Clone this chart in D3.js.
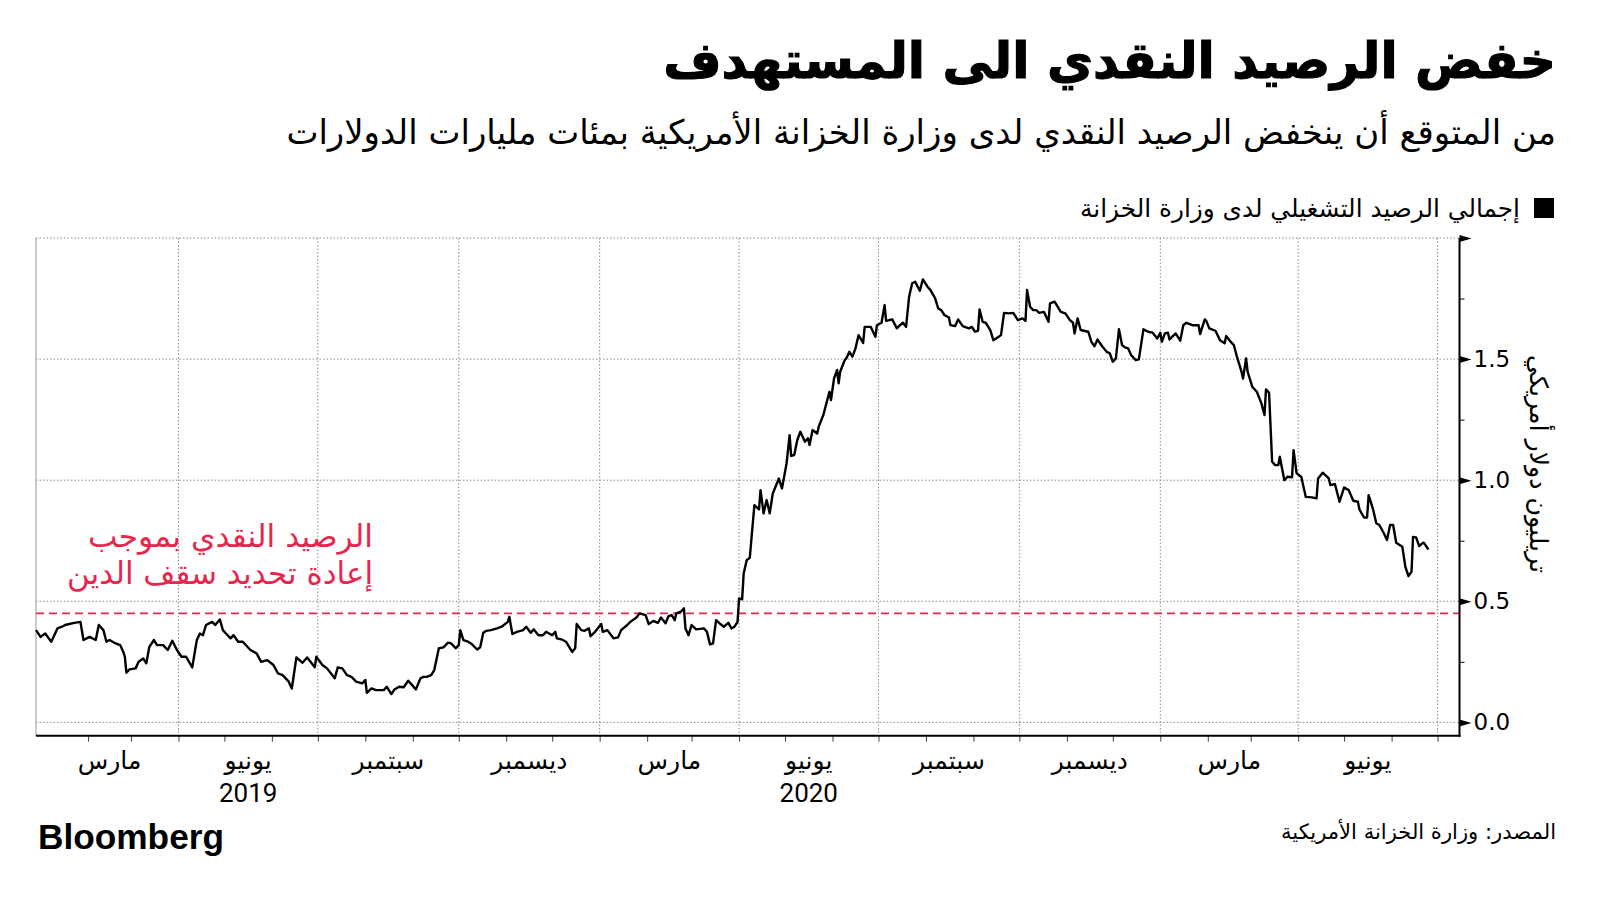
<!DOCTYPE html>
<html><head><meta charset="utf-8">
<script src="https://cdn.jsdelivr.net/npm/d3@7"></script>
<style>
body{margin:0;background:#fff;}
svg{display:block;}
</style></head><body>
<svg id="chart" width="1600" height="900"></svg>
<script>
// ---------------- DATA ----------------
const dates = [
"2018-12-29","2019-01-01","2019-01-04","2019-01-08","2019-01-12","2019-01-15","2019-01-17","2019-01-23","2019-01-27","2019-01-29",
"2019-02-02","2019-02-06","2019-02-08","2019-02-11","2019-02-13","2019-02-15","2019-02-19","2019-02-22","2019-02-24","2019-02-25",
"2019-02-26","2019-02-28","2019-03-04","2019-03-06","2019-03-09","2019-03-11","2019-03-13","2019-03-16","2019-03-18","2019-03-22",
"2019-03-25","2019-03-28","2019-03-31","2019-04-03","2019-04-06","2019-04-10","2019-04-13","2019-04-15","2019-04-17","2019-04-19",
"2019-04-23","2019-04-25","2019-04-28","2019-04-30","2019-05-02","2019-05-05","2019-05-07","2019-05-10","2019-05-13","2019-05-18",
"2019-05-22","2019-05-25","2019-05-29","2019-06-02","2019-06-05","2019-06-08","2019-06-12","2019-06-14","2019-06-17","2019-06-19",
"2019-06-21","2019-06-24","2019-06-27","2019-06-29","2019-06-30","2019-07-04","2019-07-07","2019-07-12","2019-07-14","2019-07-17",
"2019-07-20","2019-07-23","2019-07-26","2019-07-30","2019-08-01","2019-08-02","2019-08-05","2019-08-08","2019-08-13","2019-08-15",
"2019-08-18","2019-08-20","2019-08-23","2019-08-26","2019-08-29","2019-08-31","2019-09-03","2019-09-06","2019-09-08","2019-09-10",
"2019-09-13","2019-09-15","2019-09-18","2019-09-21","2019-09-24","2019-09-26","2019-09-29","2019-10-01","2019-10-02","2019-10-04",
"2019-10-07","2019-10-09","2019-10-13","2019-10-15","2019-10-17","2019-10-19","2019-10-22","2019-10-26","2019-10-29","2019-11-02",
"2019-11-03","2019-11-05","2019-11-08","2019-11-12","2019-11-14","2019-11-17","2019-11-19","2019-11-22","2019-11-25","2019-11-27",
"2019-12-01","2019-12-03","2019-12-04","2019-12-07","2019-12-10","2019-12-14","2019-12-16","2019-12-17","2019-12-20","2019-12-22",
"2019-12-25","2019-12-26","2019-12-29","2020-01-02","2020-01-03","2020-01-06","2020-01-10","2020-01-13","2020-01-15","2020-01-19",
"2020-01-21","2020-01-25","2020-01-27","2020-01-31","2020-02-02","2020-02-05","2020-02-08","2020-02-10","2020-02-13","2020-02-15",
"2020-02-17","2020-02-19","2020-02-20","2020-02-23","2020-02-25","2020-02-26","2020-02-28","2020-03-01","2020-03-04","2020-03-09",
"2020-03-11","2020-03-13","2020-03-15","2020-03-17","2020-03-20","2020-03-22","2020-03-25","2020-03-27","2020-03-29","2020-03-31",
"2020-04-01","2020-04-03","2020-04-04","2020-04-06","2020-04-08","2020-04-09","2020-04-11","2020-04-14","2020-04-15","2020-04-17",
"2020-04-19","2020-04-21","2020-04-23","2020-04-27","2020-04-29","2020-05-02","2020-05-04","2020-05-05","2020-05-07","2020-05-09",
"2020-05-11","2020-05-14","2020-05-16","2020-05-17","2020-05-19","2020-05-22","2020-05-23","2020-05-26","2020-05-28","2020-05-30",
"2020-05-31","2020-06-02","2020-06-04","2020-06-05","2020-06-06","2020-06-09","2020-06-10","2020-06-12","2020-06-14","2020-06-16",
"2020-06-18","2020-06-21","2020-06-22","2020-06-26","2020-06-29","2020-06-30","2020-07-03","2020-07-05","2020-07-06","2020-07-10",
"2020-07-13","2020-07-15","2020-07-17","2020-07-19","2020-07-21","2020-07-23","2020-07-25","2020-07-28","2020-07-30","2020-08-02",
"2020-08-04","2020-08-07","2020-08-09","2020-08-11","2020-08-13","2020-08-16","2020-08-17","2020-08-20","2020-08-22","2020-08-25",
"2020-08-29","2020-08-31","2020-09-02","2020-09-04","2020-09-05","2020-09-07","2020-09-09","2020-09-12","2020-09-14","2020-09-17",
"2020-09-19","2020-09-21","2020-09-24","2020-09-27","2020-09-30","2020-10-03","2020-10-05","2020-10-06","2020-10-08","2020-10-10",
"2020-10-12","2020-10-14","2020-10-17","2020-10-20","2020-10-21","2020-10-24","2020-10-28","2020-10-31","2020-11-03","2020-11-05",
"2020-11-06","2020-11-08","2020-11-10","2020-11-15","2020-11-17","2020-11-19","2020-11-21","2020-11-24","2020-11-27","2020-11-29",
"2020-12-01","2020-12-03","2020-12-05","2020-12-07","2020-12-09","2020-12-11","2020-12-13","2020-12-16","2020-12-18","2020-12-21",
"2020-12-24","2020-12-27","2020-12-30","2021-01-01","2021-01-02","2021-01-04","2021-01-06","2021-01-07","2021-01-11","2021-01-14",
"2021-01-16","2021-01-18","2021-01-22","2021-01-26","2021-01-27","2021-01-30","2021-01-31","2021-02-02","2021-02-06","2021-02-09",
"2021-02-12","2021-02-13","2021-02-16","2021-02-18","2021-02-20","2021-02-23","2021-02-24","2021-02-26","2021-02-27","2021-03-02",
"2021-03-05","2021-03-08","2021-03-10","2021-03-11","2021-03-13","2021-03-15","2021-03-17","2021-03-19","2021-03-20","2021-03-23",
"2021-03-25","2021-03-28","2021-03-29","2021-03-31","2021-04-03","2021-04-06","2021-04-10","2021-04-13","2021-04-14","2021-04-17",
"2021-04-21","2021-04-22","2021-04-25","2021-04-28","2021-05-01","2021-05-04","2021-05-07","2021-05-10","2021-05-11","2021-05-14",
"2021-05-16","2021-05-17","2021-05-20","2021-05-22","2021-05-24","2021-05-27","2021-05-29","2021-05-31","2021-06-02","2021-06-04",
"2021-06-08","2021-06-10","2021-06-12","2021-06-14","2021-06-15","2021-06-17","2021-06-19","2021-06-21","2021-06-22","2021-06-25"
];
// Total Treasury operating cash balance, trillions of US dollars
const balance = [
0.381,0.353,0.367,0.333,0.388,0.395,0.402,0.411,0.415,0.340,
0.353,0.340,0.402,0.381,0.333,0.340,0.326,0.319,0.291,0.271,
0.205,0.219,0.223,0.250,0.264,0.244,0.312,0.340,0.319,0.319,
0.299,0.337,0.299,0.271,0.271,0.227,0.340,0.367,0.360,0.402,
0.415,0.402,0.425,0.381,0.367,0.347,0.360,0.333,0.333,0.299,
0.285,0.250,0.257,0.237,0.202,0.195,0.168,0.140,0.268,0.257,
0.246,0.268,0.244,0.227,0.271,0.237,0.223,0.182,0.227,0.223,
0.195,0.188,0.168,0.161,0.175,0.122,0.140,0.133,0.133,0.147,
0.117,0.136,0.147,0.145,0.172,0.158,0.136,0.182,0.188,0.188,
0.195,0.216,0.306,0.310,0.329,0.326,0.306,0.319,0.381,0.340,
0.333,0.326,0.301,0.310,0.370,0.378,0.381,0.388,0.395,0.415,
0.436,0.365,0.374,0.381,0.395,0.370,0.384,0.360,0.360,0.374,
0.360,0.374,0.347,0.343,0.333,0.291,0.306,0.406,0.381,0.378,
0.388,0.356,0.374,0.406,0.374,0.381,0.347,0.351,0.381,0.402,
0.415,0.433,0.450,0.443,0.406,0.419,0.411,0.433,0.409,0.439,
0.443,0.422,0.450,0.457,0.471,0.388,0.360,0.402,0.384,0.388,
0.374,0.322,0.326,0.422,0.405,0.395,0.411,0.388,0.395,0.415,
0.512,0.508,0.615,0.670,0.680,0.753,0.897,0.879,0.959,0.863,
0.918,0.863,0.945,1.007,0.966,1.069,1.186,1.100,1.104,1.166,
1.200,1.159,1.173,1.145,1.207,1.193,1.221,1.269,1.317,1.365,
1.331,1.420,1.455,1.400,1.448,1.496,1.503,1.530,1.510,1.544,
1.599,1.567,1.633,1.633,1.592,1.640,1.650,1.723,1.658,1.664,
1.627,1.640,1.650,1.633,1.757,1.813,1.819,1.782,1.829,1.799,
1.785,1.751,1.709,1.702,1.682,1.672,1.640,1.636,1.664,1.636,
1.627,1.633,1.613,1.617,1.705,1.654,1.650,1.620,1.578,1.590,
1.599,1.691,1.689,1.691,1.661,1.668,1.658,1.785,1.716,1.702,
1.702,1.691,1.695,1.654,1.730,1.737,1.695,1.689,1.661,1.650,
1.606,1.668,1.620,1.613,1.571,1.553,1.581,1.553,1.530,1.524,
1.489,1.503,1.623,1.558,1.548,1.544,1.516,1.496,1.499,1.623,
1.613,1.609,1.585,1.609,1.571,1.606,1.609,1.581,1.606,1.576,
1.640,1.650,1.640,1.640,1.603,1.664,1.658,1.627,1.617,1.578,
1.565,1.595,1.571,1.558,1.510,1.448,1.420,1.503,1.448,1.386,
1.365,1.317,1.269,1.375,1.361,1.076,1.062,1.062,1.097,1.000,
1.014,1.012,1.124,1.028,1.014,0.931,0.929,0.925,1.007,1.031,
1.007,0.980,0.984,0.911,0.970,0.959,0.915,0.911,0.879,0.846,
0.846,0.938,0.877,0.822,0.815,0.780,0.753,0.815,0.815,0.742,
0.725,0.642,0.604,0.622,0.766,0.764,0.728,0.739,0.742,0.714
];
const debtCeilingCash = 0.45;
const yTicks = [0, 0.5, 1.0, 1.5, 2.0];
const yTickLabels = ["0.0", "0.5", "1.0", "1.5", ""];
const yMinorTicks = [0.25, 0.75, 1.25, 1.75];
const quarterStarts = ["2019-01-01","2019-04-01","2019-07-01","2019-10-01","2020-01-01","2020-04-01","2020-07-01","2020-10-01","2021-01-01","2021-04-01","2021-07-01"];
const quarterLabels = ["مارس","يونيو","سبتمبر","ديسمبر","مارس","يونيو","سبتمبر","ديسمبر","مارس","يونيو"];
const yearLabels = ["","2019","","","","2020","","","",""];
const xDomain = ["2018-12-29","2021-07-15"];
const yDomain = [-0.055, 2.0];

const titleText = "خفض الرصيد النقدي الى المستهدف";
const subtitleText = "من المتوقع أن ينخفض الرصيد النقدي لدى وزارة الخزانة الأمريكية بمئات مليارات الدولارات";
const legendText = "إجمالي الرصيد التشغيلي لدى وزارة الخزانة";
const yAxisTitle = "تريليون دولار أمريكي";
const annotationLines = ["الرصيد النقدي بموجب", "إعادة تحديد سقف الدين"];
const annotationDate = "2019-08-06";
const sourceText = "المصدر: وزارة الخزانة الأمريكية";
const brandText = "Bloomberg";

// ---------------- CHART ----------------
const parse = d3.utcParse("%Y-%m-%d");
const series = dates.map((d, i) => ({date: parse(d), v: balance[i]}));
const svg = d3.select("#chart");
const AR = "'DejaVu Sans', sans-serif";
const RED = "#e8254c";
const GRID = "#8a8a8a";
const plot = {left: 36, right: 1459.5, top: 238, bottom: 735.7};

const x = d3.scaleUtc().domain(xDomain.map(parse)).range([plot.left, 1459]);
const y = d3.scaleLinear().domain(yDomain).range([plot.bottom, plot.top]);

function fitText(sel, target) {
  const w = sel.node().getComputedTextLength();
  const fs = parseFloat(sel.attr("font-size"));
  if (w > 0) sel.attr("font-size", (fs * target / w).toFixed(2));
  return sel;
}

// title / subtitle
fitText(svg.append("text").attr("x", 1556).attr("y", 60).attr("text-anchor", "end")
  .attr("dominant-baseline", "central").attr("font-family", AR).attr("font-weight", "bold")
  .attr("font-size", 50).attr("fill", "#000").attr("stroke", "#000").attr("stroke-width", 1.2)
  .text(titleText), 893);
fitText(svg.append("text").attr("x", 1556).attr("y", 132).attr("text-anchor", "end")
  .attr("dominant-baseline", "central").attr("font-family", AR)
  .attr("font-size", 30).attr("fill", "#000").text(subtitleText), 1270);

// legend
svg.append("rect").attr("x", 1534).attr("y", 198).attr("width", 20).attr("height", 20).attr("fill", "#000");
fitText(svg.append("text").attr("x", 1520).attr("y", 208).attr("text-anchor", "end")
  .attr("dominant-baseline", "central").attr("font-family", AR)
  .attr("font-size", 22).attr("fill", "#000").text(legendText), 440);

// grid
const grid = svg.append("g");
grid.selectAll("line.h").data(yTicks).join("line")
  .attr("x1", plot.left).attr("x2", plot.right)
  .attr("y1", d => y(d)).attr("y2", d => y(d))
  .attr("stroke", GRID).attr("stroke-width", 1).attr("stroke-dasharray", "1.5,2");
const qDates = quarterStarts.map(parse);
grid.selectAll("line.v").data(qDates.filter(d => x(d) > plot.left + 10 && x(d) < plot.right - 5)).join("line")
  .attr("x1", d => x(d)).attr("x2", d => x(d))
  .attr("y1", plot.top).attr("y2", plot.bottom)
  .attr("stroke", GRID).attr("stroke-width", 1).attr("stroke-dasharray", "1.5,2");
grid.append("line").attr("x1", plot.left).attr("x2", plot.left).attr("y1", plot.top).attr("y2", plot.bottom)
  .attr("stroke", "#a8a8a8").attr("stroke-width", 1.2);

// debt ceiling reference
svg.append("line").attr("x1", plot.left).attr("x2", plot.right)
  .attr("y1", y(debtCeilingCash)).attr("y2", y(debtCeilingCash))
  .attr("stroke", RED).attr("stroke-width", 1.6).attr("stroke-dasharray", "8,5");
const ax = x(parse(annotationDate));
const annotWidths = [285, 306];
annotationLines.forEach((t, i) => {
  fitText(svg.append("text").attr("x", ax).attr("y", y(debtCeilingCash) - 77 + i * 37)
    .attr("text-anchor", "end").attr("dominant-baseline", "central")
    .attr("font-family", AR).attr("font-size", 27).attr("fill", RED).text(t), annotWidths[i]);
});

// series line
svg.append("path").datum(series)
  .attr("fill", "none").attr("stroke", "#000").attr("stroke-width", 2.4)
  .attr("stroke-linejoin", "round")
  .attr("d", d3.line().x(d => x(d.date)).y(d => y(d.v)));

// x axis (month ticks)
const xAxis = svg.append("g").attr("transform", `translate(0,${plot.bottom})`)
  .call(d3.axisBottom(x).tickValues(d3.utcMonth.range(parse("2019-02-01"), parse("2021-07-02")))
    .tickFormat("").tickSizeInner(6).tickSizeOuter(0));
xAxis.select(".domain").remove();
xAxis.selectAll(".tick line").attr("stroke", "#444").attr("stroke-width", 1);
svg.append("line").attr("x1", plot.left).attr("x2", plot.right + 1)
  .attr("y1", plot.bottom).attr("y2", plot.bottom).attr("stroke", "#000").attr("stroke-width", 2);

// quarter labels centred between quarter boundaries
const labelData = quarterLabels.map((t, i) => ({t, yr: yearLabels[i], cx: (x(qDates[i]) + x(qDates[i + 1])) / 2}));
svg.append("g").selectAll("text").data(labelData).join("text")
  .attr("x", d => d.cx).attr("y", 760).attr("text-anchor", "middle").attr("dominant-baseline", "central")
  .attr("font-family", AR).attr("font-size", 25).attr("fill", "#000").text(d => d.t);
svg.append("g").selectAll("text").data(labelData.filter(d => d.yr)).join("text")
  .attr("x", d => d.cx).attr("y", 793).attr("text-anchor", "middle").attr("dominant-baseline", "central")
  .attr("font-family", "Roboto, 'Liberation Sans', sans-serif").attr("font-size", 26).attr("fill", "#000").text(d => d.yr);

// right y axis
const yAxis = svg.append("g").attr("transform", `translate(${plot.right},0)`)
  .call(d3.axisRight(y).tickValues(yTicks).tickFormat((d, i) => yTickLabels[i]).tickSize(0).tickPadding(14));
yAxis.select(".domain").remove();
yAxis.selectAll(".tick text").attr("font-family", AR).attr("font-size", 23).attr("fill", "#000");
yAxis.selectAll(".tick").append("path").attr("d", "M0,-3.5L12,0L0,3.5Z").attr("fill", "#000");
const yMinor = svg.append("g").attr("transform", `translate(${plot.right},0)`)
  .call(d3.axisRight(y).tickValues(yMinorTicks).tickFormat("").tickSize(5));
yMinor.select(".domain").remove();
yMinor.selectAll(".tick line").attr("stroke", "#000");
svg.append("line").attr("x1", plot.right).attr("x2", plot.right).attr("y1", plot.top).attr("y2", plot.bottom + 1)
  .attr("stroke", "#000").attr("stroke-width", 2);

// y axis title (rotated)
fitText(svg.append("text").attr("transform", "translate(1538,464) rotate(90)")
  .attr("text-anchor", "middle").attr("dominant-baseline", "central")
  .attr("font-family", AR).attr("font-size", 24).attr("fill", "#000").text(yAxisTitle), 218);

// footer
fitText(svg.append("text").attr("x", 38).attr("y", 836).attr("dominant-baseline", "central")
  .attr("font-family", "'Liberation Sans', Arial, sans-serif").attr("font-weight", "bold")
  .attr("font-size", 36).attr("fill", "#000").text(brandText), 186);
fitText(svg.append("text").attr("x", 1556).attr("y", 831).attr("text-anchor", "end")
  .attr("dominant-baseline", "central").attr("font-family", AR)
  .attr("font-size", 21).attr("fill", "#000").text(sourceText), 275);
</script>
</body></html>
